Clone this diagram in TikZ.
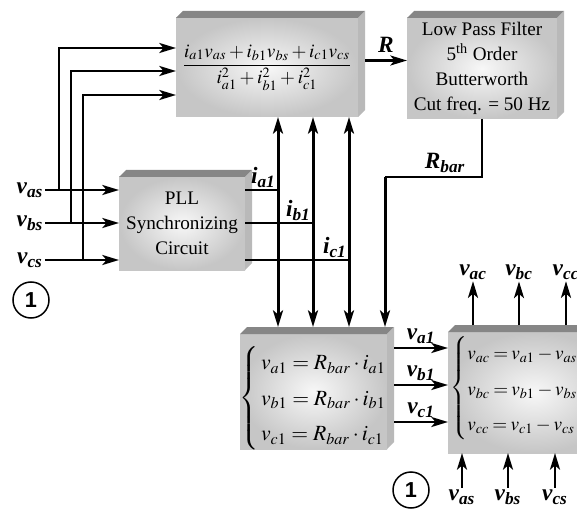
\documentclass[tikz,border=0pt]{standalone}
\usepackage{amsmath}
\usepackage{mathptmx}
\usepackage{fontspec}
\setmainfont{Liberation Serif}
\newfontfamily\circfont{Liberation Sans}
\usetikzlibrary{arrows.meta,positioning,fit,calc}

\renewcommand{\arraystretch}{1.42}
\newcommand{\sig}[2]{#1\textsubscript{#2}}
\newcommand{\boxfaces}[1]{%
  \fill[gray!95] (#1.north west) -- ++(7,-7) -- ($(#1.north east)+(7,-7)$) -- (#1.north east) -- cycle;
  \fill[gray!55] (#1.north east) -- ++(7,-7) -- ($(#1.south east)+(7,-7)$) -- (#1.south east) -- cycle;
}

\tikzset{
  blk/.style={inner sep=0pt, outer sep=0pt, shade, inner color=gray!6, outer color=gray!45},
  lbl/.style={font=\fontsize{14}{16}\selectfont\bfseries\itshape, inner sep=1pt},
  eqn/.style={font=\fontsize{13}{15}\selectfont, inner sep=0pt},
  wire/.style={line width=1.5pt},
  thinwire/.style={line width=0.8pt},
  bus/.style={line width=1.8pt, <->},
  feed/.style={line width=1.8pt, ->},
  circ/.style={circle, draw, line width=0.9pt, minimum size=21.6pt, inner sep=0pt, font=\circfont\bfseries\fontsize{13}{13}\selectfont},
}

\begin{document}
\begin{tikzpicture}[x=0.6pt, y=-0.6pt, >={Stealth[length=10pt,width=6pt,inset=2.5pt]}, font=\fontsize{11.5}{15}\selectfont]
\useasboundingbox (0,0) rectangle (577,509);
\clip (0,0) rectangle (577,509);

% Blocks
\node[blk, fit={(176,18) (358,117)}] (calc) {};
\node[blk, fit={(407,18) (557,119)}] (lpf) {};
\node[blk, fit={(119,177) (245,270)}] (pll) {};
\node[blk, fit={(240,334) (387,449)}] (vone) {};
\node[blk, fit={(448,332) (620,453)}] (vcomp) {};
\foreach \b in {calc,lpf,pll,vone,vcomp} {\boxfaces{\b}}

% Block texts
\node (calctxt) at (calc.center) {$\displaystyle\frac{i_{a1}v_{as}+i_{b1}v_{bs}+i_{c1}v_{cs}}{i_{a1}^{2}+i_{b1}^{2}+i_{c1}^{2}}$};
\node[align=center] (lpftxt) at (lpf.center) {Low Pass Filter\\5\textsuperscript{th} Order\\Butterworth\\Cut freq. = 50 Hz};
\node[align=center] (plltxt) at (pll.center) {PLL\\Synchronizing\\Circuit};
\node[eqn] (vonetxt) at ([yshift=-4pt]vone.center) {$\left\{\begin{array}{@{\,}l@{}} v_{a1}=R_{bar}\cdot i_{a1}\\ v_{b1}=R_{bar}\cdot i_{b1}\\ v_{c1}=R_{bar}\cdot i_{c1}\end{array}\right.$};
\node[eqn, font=\fontsize{11.5}{15}\selectfont, anchor=west] (vcompeq) at (450,388) {$\thickmuskip=3mu \medmuskip=2.5mu \left\{\begin{array}{@{}l@{}} v_{ac}=v_{a1}-v_{as}\\ v_{bc}=v_{b1}-v_{bs}\\ v_{cc}=v_{c1}-v_{cs}\end{array}\right.$};

% Input signals
\foreach \n/\y/\bx/\ty in {as/190/59/48, bs/223/71/71, cs/260/83/95} {
  \node[lbl] (in\n) at (30,\y) {\sig{v}{\n}};
  \coordinate (br\n) at (\bx,\y);
  \coordinate (tp\n) at (176,\ty);
  \draw[wire,->] (in\n.east |- br\n) -- (pll.west |- br\n);
  \draw[wire,->] (br\n) |- (tp\n);
}

% Currents from PLL and buses
\foreach \n/\y/\x in {a/190/278, b/223/313, c/260/349} {
  \coordinate (bt\n) at (\x,0 |- calc.south);
  \coordinate (bb\n) at ($(\x,0 |- vone.north)+(0,-7)$);
  \draw[bus] (bt\n) -- (bb\n);
  \coordinate (jn\n) at (\x,\y);
  \draw[thinwire] (pll.east |- jn\n) -- (jn\n) node[lbl, anchor=south east] (i\n) {\sig{i}{\n1}};
}

% R and filtered R
\coordinate (rout) at ($(calc.east)+(7,-7)$);
\draw[wire,->] (rout) -- (lpf.west |- rout) node[lbl, midway, above=3pt] (rlab) {R};
\coordinate (rbk) at (385,177);
\coordinate (rbin) at ($(385,0 |- vone.north)+(0,-7)$);
\draw[thinwire] (lpf.south) |- (rbk);
\draw[feed] (rbk) -- (rbin);
\node[lbl, anchor=south] (rbar) at (445,175) {\sig{R}{bar}};

% Voltages v_a1, v_b1, v_c1
\coordinate (vside) at ($(vone.east)+(7,0)$);
\foreach \n/\y in {a/348, b/385, c/422} {
  \coordinate (vo\n) at (vside |- 0,\y);
  \draw[wire,->] (vo\n) -- (vcomp.west |- vo\n) node[lbl, midway, above=1pt] (vl\n) {\sig{v}{\n1}};
}

% Compensated outputs
\coordinate (vctop) at ($(vcomp.north)+(0,-7)$);
\foreach \n/\x in {ac/473, bc/519, cc/566} {
  \coordinate (up\n) at (\x,0 |- vctop);
  \node[lbl] (out\n) at (\x,272) {\sig{v}{\n}};
  \draw[wire,->] (up\n) -- (out\n.south);
}

% Source voltages from below
\foreach \n/\x in {as/462, bs/508, cs/555} {
  \node[lbl] (bin\n) at (\x,497) {\sig{v}{\n}};
  \draw[wire,->] (bin\n.north) -- (\x,0 |- vcomp.south);
}

% Reference marks
\node[circ] (refa) at (31,300) {1};
\node[circ] (refb) at (411,490) {1};
\end{tikzpicture}
\end{document}
